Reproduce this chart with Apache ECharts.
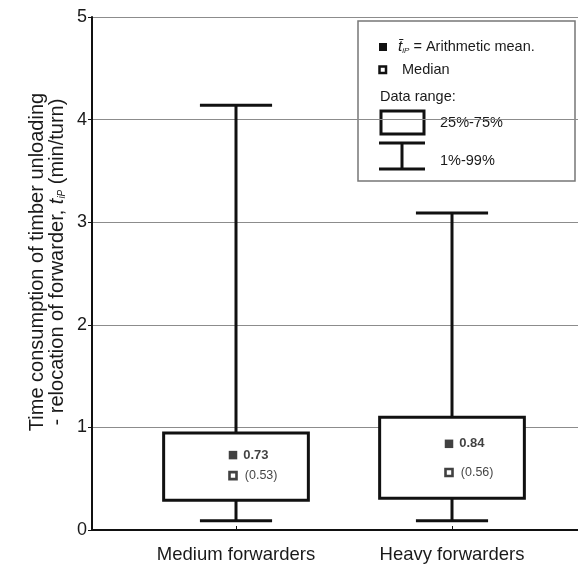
<!DOCTYPE html>
<html><head><meta charset="utf-8">
<script src="https://cdn.jsdelivr.net/npm/echarts@6/dist/echarts.min.js"></script>
<style>html,body{margin:0;padding:0;background:#fff}#c{width:578px;height:573px}</style>
</head><body><div id="c"></div>
<script>
// ---- data ----
const categories = ['Medium forwarders', 'Heavy forwarders'];
const p1 = [0.09, 0.09];      // 1% whisker
const q25 = [0.29, 0.31];     // box bottom
const q75 = [0.945, 1.10];    // box top
const p99 = [4.14, 3.09];     // 99% whisker
const means = [0.73, 0.84];
const medians = [0.53, 0.56];
const yTicks = [0, 1, 2, 3, 4, 5];

// ---- layout/style constants ----
const X_MIN = -2 / 3, X_MAX = 1.5833;
const BOX_HALF = 0.335, CAP_HALF = 0.167;
const INK = '#111';
const SANS = "'Liberation Sans', Arial, sans-serif";

const chart = echarts.init(document.getElementById('c'), null, {renderer: 'canvas'});

const boxData = categories.map((_, i) => [i, p1[i], q25[i], q75[i], p99[i]]);

function renderBox(params, api) {
  const i = api.value(0);
  const lo = api.value(1), a = api.value(2), b = api.value(3), hi = api.value(4);
  const tl = api.coord([i - BOX_HALF, b]);
  const br = api.coord([i + BOX_HALF, a]);
  const top = api.coord([i, hi]);
  const bot = api.coord([i, lo]);
  const cL = api.coord([i - CAP_HALF, hi])[0];
  const cR = api.coord([i + CAP_HALF, hi])[0];
  const st = {stroke: INK, lineWidth: 3, fill: null};
  return {
    type: 'group',
    children: [
      {type: 'line', shape: {x1: top[0], y1: top[1], x2: top[0], y2: tl[1]}, style: st},
      {type: 'line', shape: {x1: bot[0], y1: br[1], x2: bot[0], y2: bot[1]}, style: st},
      {type: 'line', shape: {x1: cL, y1: top[1], x2: cR, y2: top[1]}, style: st},
      {type: 'line', shape: {x1: cL, y1: bot[1], x2: cR, y2: bot[1]}, style: st},
      {type: 'rect', shape: {x: tl[0], y: tl[1], width: br[0] - tl[0], height: br[1] - tl[1]},
       style: {fill: '#fff', stroke: INK, lineWidth: 3}}
    ]
  };
}

const LEG_FS = 14.5;

const option = {
  backgroundColor: '#fff',
  animation: false,
  grid: {left: 92, right: 0, top: 17, bottom: 43, containLabel: false},
  xAxis: {
    type: 'value', min: X_MIN, max: X_MAX,
    axisLine: {show: true, onZero: false, lineStyle: {color: INK, width: 2}},
    axisTick: {show: true, inside: true, length: 4, customValues: [0, 1], lineStyle: {color: INK, width: 1}},
    axisLabel: {show: true, customValues: [0, 1], margin: 15,
      formatter: v => categories[Math.round(v)] || '',
      fontFamily: SANS, fontSize: 18.5, color: '#1a1a1a'},
    splitLine: {show: false}
  },
  yAxis: {
    type: 'value', min: yTicks[0], max: yTicks[yTicks.length - 1], interval: 1,
    axisLine: {show: true, onZero: false, lineStyle: {color: INK, width: 2}},
    axisTick: {show: true, length: 4, lineStyle: {color: INK, width: 1}},
    axisLabel: {fontFamily: SANS, fontSize: 18, color: '#1a1a1a', margin: 5},
    splitLine: {show: true, lineStyle: {color: '#8c8c8c', width: 1}}
  },
  series: [
    {
      type: 'custom', renderItem: renderBox, data: boxData,
      encode: {x: 0, y: [1, 2, 3, 4]}, clip: false, z: 2
    },
    {
      type: 'scatter', data: categories.map((_, i) => [i, means[i]]),
      symbol: 'rect', symbolSize: 8.5, symbolOffset: [-3, 0], z: 5,
      itemStyle: {color: '#111'},
      label: {show: true, position: 'right', distance: 6, formatter: p => means[p.dataIndex].toFixed(2),
        fontFamily: SANS, fontWeight: 'bold', fontSize: 13, color: '#111'}
    },
    {
      type: 'scatter', data: categories.map((_, i) => [i, medians[i]]),
      symbol: 'rect', symbolSize: 7, symbolOffset: [-3, 0], z: 5,
      itemStyle: {color: '#fff', borderColor: '#111', borderWidth: 2.6},
      label: {show: true, position: 'right', distance: 7, formatter: p => '(' + medians[p.dataIndex].toFixed(2) + ')',
        fontFamily: SANS, fontSize: 12.5, color: '#111'}
    }
  ],
  graphic: [
    {
      type: 'text', x: 47, y: 262, rotation: Math.PI / 2, z: 10,
      style: {
        text: 'Time consumption of timber unloading\n- relocation of forwarder, {it|t}{sub|iP} (min/turn)',
        textAlign: 'center', textVerticalAlign: 'middle',
        fontFamily: SANS, fontSize: 20, lineHeight: 20, fill: '#1a1a1a',
        rich: {
          it: {fontStyle: 'italic', fontFamily: SANS, fontSize: 20, fill: '#1a1a1a'},
          sub: {fontStyle: 'italic', fontFamily: SANS, fontSize: 10, fill: '#1a1a1a', verticalAlign: 'bottom', padding: [6, 0, 0, 0]}
        }
      }
    },
    {
      type: 'group', z: 20,
      children: [
        {type: 'rect', shape: {x: 358, y: 21, width: 217, height: 160}, style: {fill: '#fff', stroke: '#777', lineWidth: 1.5}},
        {type: 'rect', shape: {x: 379, y: 43, width: 8, height: 8}, style: {fill: '#111'}},
        {type: 'text', x: 398, y: 47, style: {
          text: '{it|t\u0304}{sub|iP} = Arithmetic mean.', textVerticalAlign: 'middle',
          fontFamily: SANS, fontSize: LEG_FS, fill: '#1a1a1a',
          rich: {
            it: {fontStyle: 'italic', fontFamily: SANS, fontSize: LEG_FS + 1, fill: '#1a1a1a'},
            sub: {fontStyle: 'italic', fontFamily: SANS, fontSize: 8, fill: '#1a1a1a', verticalAlign: 'bottom', padding: [5, 0, 0, 0]}
          }}},
        {type: 'rect', shape: {x: 379.5, y: 66.5, width: 6.5, height: 6.5}, style: {fill: '#fff', stroke: '#111', lineWidth: 2.5}},
        {type: 'text', x: 402, y: 70, style: {text: 'Median', textVerticalAlign: 'middle', fontFamily: SANS, fontSize: LEG_FS, fill: '#1a1a1a'}},
        {type: 'text', x: 380, y: 97, style: {text: 'Data range:', textVerticalAlign: 'middle', fontFamily: SANS, fontSize: LEG_FS, fill: '#1a1a1a'}},
        {type: 'rect', shape: {x: 381, y: 111, width: 43, height: 23}, style: {fill: '#fff', stroke: '#111', lineWidth: 3}},
        {type: 'text', x: 440, y: 123, style: {text: '25%-75%', textVerticalAlign: 'middle', fontFamily: SANS, fontSize: LEG_FS, fill: '#1a1a1a'}},
        {type: 'line', shape: {x1: 379, y1: 143, x2: 425, y2: 143}, style: {stroke: '#111', lineWidth: 3}},
        {type: 'line', shape: {x1: 402, y1: 143, x2: 402, y2: 169}, style: {stroke: '#111', lineWidth: 3}},
        {type: 'line', shape: {x1: 379, y1: 169, x2: 425, y2: 169}, style: {stroke: '#111', lineWidth: 3}},
        {type: 'text', x: 440, y: 161, style: {text: '1%-99%', textVerticalAlign: 'middle', fontFamily: SANS, fontSize: LEG_FS, fill: '#1a1a1a'}}
      ]
    }
  ]
};
chart.setOption(option);
</script>
</body></html>
